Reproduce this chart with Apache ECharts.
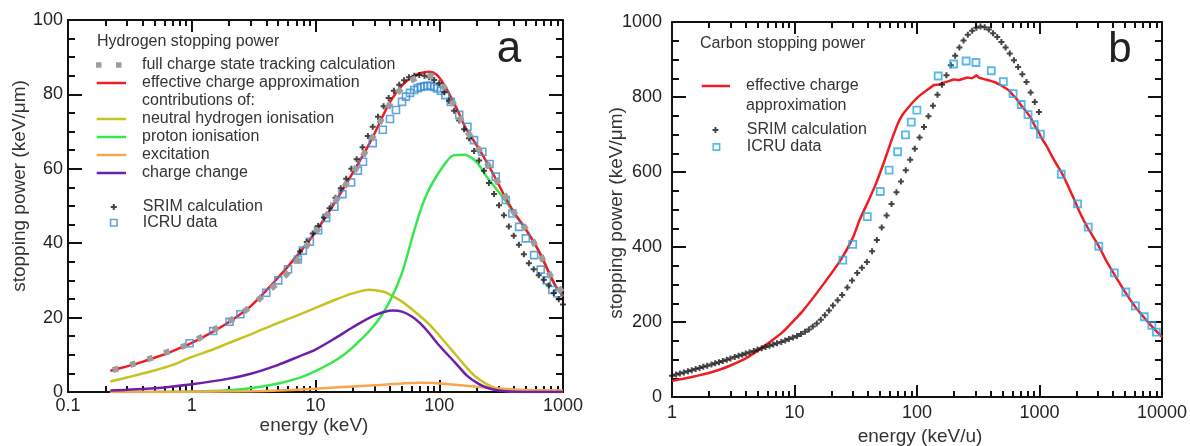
<!DOCTYPE html>
<html><head><meta charset="utf-8">
<script src="https://cdn.jsdelivr.net/npm/echarts@6/dist/echarts.min.js"></script>
<style>html,body{margin:0;padding:0;background:#fff}#c{width:1190px;height:446px}</style>
</head><body><div id="c"></div><script>
// ---------- Panel a : hydrogen (x: energy keV, y: keV/um) ----------
const hEffective = [[0.22,5.7],[0.3,6.9],[0.4,8.1],[0.5,9.2],[0.7,11.0],[1,13.2],[1.5,16.3],[2,18.8],[3,23.1],[4.5,29.1],[7,36.4],[10,43.0],[15,52.0],[20,58.9],[26,65.5],[30,69.5],[40,78.0],[50,82.4],[60,84.6],[70,85.7],[83,86.1],[95,85.3],[110,82.5],[136,76.7],[164,70.9],[210,65.3],[271,58.8],[330,53.3],[407,48.0],[500,43.8],[640,37.8],[861,28.8],[1000,25.8]];
const hFullCharge = [[0.23,5.9],[0.33,7.4],[0.46,9.0],[0.64,10.8],[0.9,12.6],[1.23,15.0],[1.63,17.4],[2.29,20.2],[3.03,23.1],[4,26.7],[5.1,29.7],[6.6,33.7],[8,38.0],[10,42.8],[13,48.6],[17,55.0],[22,61.0],[28,67.5],[35,74.0],[45,80.0],[55,83.0],[65,84.4],[75,85.0],[85,85.0],[95,84.4],[110,81.8],[130,77.6],[160,71.3],[200,66.2],[250,60.8],[310,55.3],[400,48.4],[500,43.8],[640,37.6],[800,31.0],[1000,26.5]];
const hNeutral = [[0.22,2.8],[0.3,3.9],[0.5,5.8],[0.7,7.3],[1,9.4],[1.5,11.5],[2,13.2],[3,15.5],[5,18.6],[7.4,20.8],[10,22.6],[15,25.0],[20,26.5],[27,27.5],[35,27.0],[40,26.2],[50,24.3],[65,21.3],[83,18.2],[100,15.2],[136,10.0],[170,6.2],[197,4.1],[240,2.2],[286,1.0],[350,0.3],[450,0.05],[1000,0]];
const hProton = [[0.22,0.02],[0.5,0.05],[1,0.15],[2,0.5],[3,1.0],[5,2.3],[7.4,3.8],[10,5.6],[15,8.8],[20,12.0],[30,18.0],[40,24.5],[50,32.0],[61,42.0],[70,48.5],[80,53.5],[95,58.0],[115,62.0],[130,63.6],[160,63.8],[190,62.5],[215,60.5],[240,58.0],[290,54.5],[350,51.0],[407,47.8],[500,43.7],[640,37.7],[861,28.7],[1000,25.7]];
const hExcitation = [[0.22,0],[1,0.05],[3,0.2],[5,0.4],[10,0.9],[20,1.5],[33,1.9],[50,2.3],[70,2.5],[90,2.4],[120,2.1],[150,1.8],[200,1.4],[286,1.0],[400,0.7],[600,0.5],[1000,0.4]];
const hChargeChange = [[0.22,0.4],[0.5,1.0],[1,2.1],[2,3.6],[3,4.9],[5,7.3],[7.4,9.6],[10,11.4],[15,14.8],[20,17.4],[30,20.6],[42,21.9],[50,21.6],[60,20.3],[70,18.5],[83,15.8],[100,12.5],[136,7.7],[170,4.2],[210,2.1],[250,1.0],[300,0.4],[400,0.1],[1000,0]];
const hICRU = [[0.96,13.1],[1.49,16.4],[2.02,18.9],[2.47,20.9],[4.0,26.7],[5.0,30.0],[6.0,33.0],[7.2,35.6],[7.9,38.0],[9.0,40.4],[10.5,43.5],[12.2,46.8],[14.2,49.8],[16.5,53.2],[19.4,56.3],[22.0,59.5],[24.2,61.9],[29,66.9],[35,70.5],[40,73.4],[44.7,75.8],[50,78.0],[53.8,79.4],[58,80.4],[62.8,81.2],[67,81.7],[71,82.0],[75.5,82.2],[80,82.3],[85,82.3],[90.8,82.0],[96,81.6],[103,81.0],[112,79.8],[124,78.0],[145,74.5],[169,71.3],[191,67.7],[223,64.6],[255,61.3],[286,57.9],[345,51.6],[390,48.0],[442,44.4],[500,41.3],[584,36.8],[661,32.9],[740,30.0],[820,27.4],[900,26.5]];
const hSRIM = [[7.5,37.8],[8.5,40.3],[9.5,42.6],[10.5,44.6],[11.7,46.9],[13,49.4],[14.5,52.2],[16,54.8],[17.7,57.3],[19.5,60.0],[21.5,62.6],[24,65.8],[26.5,68.8],[29,71.3],[32,74.0],[35.5,76.8],[39,79.0],[43,81.0],[47.5,82.6],[52,83.8],[57,84.6],[63,85.0],[69,85.2],[76,85.0],[83,84.6],[91,83.9],[100,83.0],[110,80.6],[120,78.3],[132,75.6],[145,73.0],[159,70.6],[174,68.2],[191,64.8],[210,62.2],[230,59.5],[252,56.2],[277,53.2],[304,50.2],[333,47.5],[365,44.5],[400,42.0],[440,39.6],[483,37.0],[530,34.6],[580,33.0],[637,31.4],[700,30.2],[767,28.6],[842,26.6],[924,24.9],[1000,23.5]];
const hMinorTicks = [0.2,0.3,0.4,0.5,0.6,0.7,0.8,0.9,2,3,4,5,6,7,8,9,20,30,40,50,60,70,80,90,200,300,400,500,600,700,800,900];

// ---------- Panel b : carbon (x: energy keV/u, y: keV/um) ----------
const cEffective = [[1,43],[1.3,50],[1.62,57],[2,64],[2.5,74],[3,84],[4,103],[5.5,133],[8,173],[11.5,227],[16.7,295],[24,367],[30,425],[34,472],[40,522],[46,567],[54,628],[62,685],[70,730],[76,752],[82,766],[95,790],[108,807],[125,822],[138,832],[150,833],[165,838],[185,843],[199,847],[220,845],[240,849],[260,852],[280,850],[295,854],[306,858],[318,852],[340,849],[370,846],[400,843],[442,838],[480,832],[520,825],[560,818],[600,807],[650,795],[700,780],[750,768],[815,753],[870,738],[920,722],[980,708],[1042,690],[1150,668],[1250,645],[1370,622],[1506,600],[1700,565],[1900,530],[2150,490],[2450,454],[3050,402],[3500,364],[4010,331],[4980,281],[5970,243],[7050,214],[8120,191],[9180,173],[10000,160]];
const cICRU = [[24.8,365],[29.9,407],[39.3,481],[50.1,548],[59.2,605],[69.5,654],[80.5,699],[89.9,733],[99.7,765],[149,856],[199,888],[252,896],[303,892],[404,870],[507,841],[609,809],[709,780],[806,753],[905,726],[1018,701],[1506,594],[2047,515],[2500,453],[3050,402],[4085,331],[5070,280],[6070,243],[7170,214],[8270,191],[8990,173]];
const cSRIM = [[1.0,57],[1.08,60],[1.16,62.5],[1.25,65.5],[1.35,68.5],[1.45,71.5],[1.56,74.5],[1.68,77.5],[1.8,80.5],[1.94,83.5],[2.1,87],[2.25,90],[2.42,93],[2.6,96],[2.8,99.5],[3.0,103],[3.25,106.5],[3.5,110],[3.75,113],[4.0,116],[4.3,119.5],[4.65,123],[5.0,126.5],[5.4,130],[5.8,133.5],[6.25,137],[6.7,140],[7.2,143.5],[7.8,147],[8.4,151],[9.0,154.5],[9.7,158.5],[10.5,163],[11.3,168],[12.2,174],[13.1,180],[14.1,188],[15.2,196],[16.4,206],[17.7,218],[19.1,231],[20.6,244],[22.5,258],[24.5,272],[27,292],[29.5,311],[32.5,331],[35.5,345],[39,360],[43,389],[47,419],[51.5,452],[56.5,484],[62,515],[68,546],[74,575],[81,605],[88,633],[96,662],[105,692],[114,720],[124,749],[135,777],[147,806],[160,833],[174,858],[189,885],[205,910],[222,932],[240,951],[260,966],[282,977],[305,985],[330,988],[357,986],[386,980],[418,970],[452,960],[489,947],[529,932],[572,916],[619,898],[669,880],[724,861],[783,840],[847,812],[916,787],[990,760]];
const cMinorTicks = [2,3,4,5,6,7,8,9,20,30,40,50,60,70,80,90,200,300,400,500,600,700,800,900,2000,3000,4000,5000,6000,7000,8000,9000];

// ---------- style ----------
const FONT = '"Liberation Sans", Arial, Helvetica, sans-serif';
const AX = '#111';
const RED = '#ee1d23', YELLOW = '#c6c21f', GREEN = '#36e84c', ORANGE = '#f8a54c', PURPLE = '#6e1fa8';
const GRAY = '#9d9d9d', BLUE_L = '#3b8fd3', BLUE_R = '#2aa7e6', BLACK = '#151515';
const PLUS = 'path://M2,0h2v2h2v2h-2v2h-2v-2h-2v-2h2z';
const plainNum = v => String(+Number(v).toPrecision(6));

function xAxes(grid, min, max, minors, margin) {
  const tick = {color: AX, width: 2};
  const base = {gridIndex: grid, type: 'log', logBase: 10, min, max, splitLine: {show: false}, minorTick: {show: false}};
  return [
    Object.assign({}, base, {position: 'bottom',
      axisLine: {show: true, onZero: false, lineStyle: {color: AX, width: 2}},
      axisTick: {show: true, inside: true, length: 12, lineStyle: tick},
      axisLabel: {show: true, margin, fontSize: 18, color: '#222', fontFamily: FONT, formatter: plainNum}}),
    Object.assign({}, base, {position: 'bottom',
      axisLine: {show: false, onZero: false},
      axisTick: {show: true, inside: true, length: 6, customValues: minors, lineStyle: tick},
      axisLabel: {show: false}}),
    Object.assign({}, base, {position: 'top',
      axisLine: {show: true, onZero: false, lineStyle: {color: AX, width: 2}},
      axisTick: {show: true, inside: true, length: 12, lineStyle: tick},
      axisLabel: {show: false}}),
    Object.assign({}, base, {position: 'top',
      axisLine: {show: false, onZero: false},
      axisTick: {show: true, inside: true, length: 6, customValues: minors, lineStyle: tick},
      axisLabel: {show: false}})
  ];
}
function yAxes(grid, max, interval, margin) {
  const tick = {color: AX, width: 2};
  const base = {gridIndex: grid, type: 'value', min: 0, max, interval, splitLine: {show: false},
    axisLine: {show: true, onZero: false, lineStyle: {color: AX, width: 2}},
    axisTick: {show: true, inside: true, length: 14, lineStyle: tick},
    minorTick: {show: true, splitNumber: 4, length: 7, lineStyle: tick}};
  return [
    Object.assign({}, base, {position: 'left',
      axisLabel: {show: true, margin, fontSize: 18, color: '#222', fontFamily: FONT, formatter: plainNum}}),
    Object.assign({}, base, {position: 'right', axisLabel: {show: false}})
  ];
}
const lineIcon = (x0, len, W) => `path://M0,0M${W},14M${x0},5.75h${len}v2.5h-${len}z`;
const grayIcon = 'path://M0,0M42,14M1,4.25h5.5v5.5h-5.5zM21,4.25h5.5v5.5h-5.5z';
const plusIcon = c => `path://M0,0M42,14M${c-1},4h2v2h2v2h-2v2h-2v-2h-2v-2h2z`;
const squareIcon = c => `path://M0,0M42,14M${c-3.25},3.75h6.5v6.5h-6.5z`;
const legendText = {fontSize: 16, color: '#333', fontFamily: FONT, lineHeight: 18};
function legend(left, top, gap, width, data, fmt) {
  return {left, top, orient: 'vertical', itemGap: gap, itemWidth: width, itemHeight: 14, padding: 0,
    selectedMode: false, textStyle: legendText, data, formatter: fmt || (n => n)};
}
const lineSeries = (name, data, color, width, z, x, y, smooth) => ({
  name, type: 'line', data, xAxisIndex: x, yAxisIndex: y, showSymbol: false, symbol: 'none',
  smooth: smooth, z, lineStyle: {color, width}, itemStyle: {color}, silent: true
});
const txt = (text, x, y, size, extra) => Object.assign({type: 'text', x, y, silent: true,
  style: {text, fontSize: size, fontFamily: FONT, fill: '#333', align: 'left', verticalAlign: 'middle'}}, extra || {});

const chart = echarts.init(document.getElementById('c'), null, {renderer: 'canvas'});
chart.setOption({
  animation: false,
  backgroundColor: '#fff',
  grid: [
    {left: 68, top: 20, width: 495, height: 372},
    {left: 672, top: 22, width: 501, height: 375}
  ],
  xAxis: [].concat(xAxes(0, 0.1, 1000, hMinorTicks, 5), xAxes(1, 1, 10000, cMinorTicks, 7)),
  yAxis: [].concat(yAxes(0, 100, 20, 5), yAxes(1, 1000, 200, 10)),
  legend: [
    legend(95, 56, 0, 42, [
      {name: 'full charge state tracking calculation', icon: grayIcon, itemStyle: {color: GRAY, borderWidth: 0}},
      {name: 'effective charge approximation', icon: lineIcon(1.7, 29.3, 42), itemStyle: {color: RED, borderWidth: 0}}
    ]),
    legend(95, 110, 0, 42, [
      {name: 'neutral hydrogen ionisation', icon: lineIcon(1.7, 29.3, 42), itemStyle: {color: YELLOW, borderWidth: 0}},
      {name: 'proton ionisation', icon: lineIcon(1.7, 29.3, 42), itemStyle: {color: GREEN, borderWidth: 0}},
      {name: 'excitation', icon: lineIcon(1.7, 29.3, 42), itemStyle: {color: ORANGE, borderWidth: 0}},
      {name: 'charge change', icon: lineIcon(1.7, 29.3, 42), itemStyle: {color: PURPLE, borderWidth: 0}}
    ]),
    legend(95, 198, -2.3, 42, [
      {name: 'SRIM calculation', icon: plusIcon(18), itemStyle: {color: BLACK, borderWidth: 0}},
      {name: 'ICRU data', icon: squareIcon(18), itemStyle: {color: 'rgba(0,0,0,0)', borderColor: BLUE_L, borderWidth: 1.6}}
    ]),
    legend(700, 77, 0, 41, [
      {name: 'effective charge approximation', icon: lineIcon(1.7, 28.3, 41), itemStyle: {color: RED, borderWidth: 0}}
    ], n => n === 'effective charge approximation' ? 'effective charge' : n),
    legend(700, 121, -1, 41, [
      {name: 'SRIM calculation', icon: plusIcon(15), itemStyle: {color: BLACK, borderWidth: 0}},
      {name: 'ICRU data', icon: squareIcon(16), itemStyle: {color: 'rgba(0,0,0,0)', borderColor: BLUE_R, borderWidth: 1.6}}
    ])
  ],
  graphic: [
    txt('Hydrogen stopping power', 97, 42, 16),
    txt('contributions of:', 142, 101, 16),
    txt('Carbon stopping power', 700, 44, 16),
    txt('approximation', 746, 106, 16),
    txt('a', 509, 50, 44, {style: {text: 'a', fontSize: 44, fontFamily: FONT, fill: '#222', align: 'center', verticalAlign: 'middle'}}),
    txt('b', 1120, 50, 44, {style: {text: 'b', fontSize: 42, fontFamily: FONT, fill: '#222', align: 'center', verticalAlign: 'middle'}}),
    {type: 'text', x: 20, y: 186, rotation: Math.PI / 2, silent: true,
      style: {text: 'stopping power (keV/μm)', fontSize: 19, fontFamily: FONT, fill: '#333', align: 'center', verticalAlign: 'middle'}},
    {type: 'text', x: 617, y: 213, rotation: Math.PI / 2, silent: true,
      style: {text: 'stopping power (keV/μm)', fontSize: 19, fontFamily: FONT, fill: '#333', align: 'center', verticalAlign: 'middle'}},
    {type: 'text', x: 314, y: 426, silent: true,
      style: {text: 'energy (keV)', fontSize: 19, fontFamily: FONT, fill: '#333', align: 'center', verticalAlign: 'middle'}},
    {type: 'text', x: 920, y: 437, silent: true,
      style: {text: 'energy (keV/u)', fontSize: 19, fontFamily: FONT, fill: '#333', align: 'center', verticalAlign: 'middle'}}
  ],
  series: [
    lineSeries('neutral hydrogen ionisation', hNeutral, YELLOW, 2.5, 2, 0, 0, 0.3),
    lineSeries('proton ionisation', hProton, GREEN, 2.5, 2, 0, 0, 0.3),
    lineSeries('excitation', hExcitation, ORANGE, 2.5, 2, 0, 0, 0.3),
    lineSeries('charge change', hChargeChange, PURPLE, 2.5, 2, 0, 0, 0.3),
    lineSeries('effective charge approximation', hEffective, RED, 2.5, 3, 0, 0, 0.3),
    {name: 'ICRU data', type: 'scatter', data: hICRU, xAxisIndex: 0, yAxisIndex: 0, symbol: 'rect', symbolSize: 7, z: 4, silent: true,
      itemStyle: {color: 'rgba(0,0,0,0)', borderColor: BLUE_L, borderWidth: 1.6}},
    {name: 'SRIM calculation', type: 'scatter', data: hSRIM, xAxisIndex: 0, yAxisIndex: 0, symbol: PLUS, symbolSize: 6, z: 5, silent: true,
      itemStyle: {color: BLACK}},
    {name: 'full charge state tracking calculation', type: 'line', data: hFullCharge, xAxisIndex: 0, yAxisIndex: 0,
      showSymbol: false, symbol: 'none', smooth: 0.3, z: 6, silent: true,
      lineStyle: {color: GRAY, width: 6, type: [6, 12], cap: 'butt'}, itemStyle: {color: GRAY}},

    lineSeries('effective charge approximation', cEffective, RED, 2.5, 3, 4, 2, 0.15),
    {name: 'SRIM calculation', type: 'scatter', data: cSRIM, xAxisIndex: 4, yAxisIndex: 2, symbol: PLUS, symbolSize: 6, z: 4, silent: true,
      itemStyle: {color: BLACK}},
    {name: 'ICRU data', type: 'scatter', data: cICRU, xAxisIndex: 4, yAxisIndex: 2, symbol: 'rect', symbolSize: 7, z: 5, silent: true,
      itemStyle: {color: 'rgba(0,0,0,0)', borderColor: BLUE_R, borderWidth: 1.8}}
  ]
});
</script></body></html>
